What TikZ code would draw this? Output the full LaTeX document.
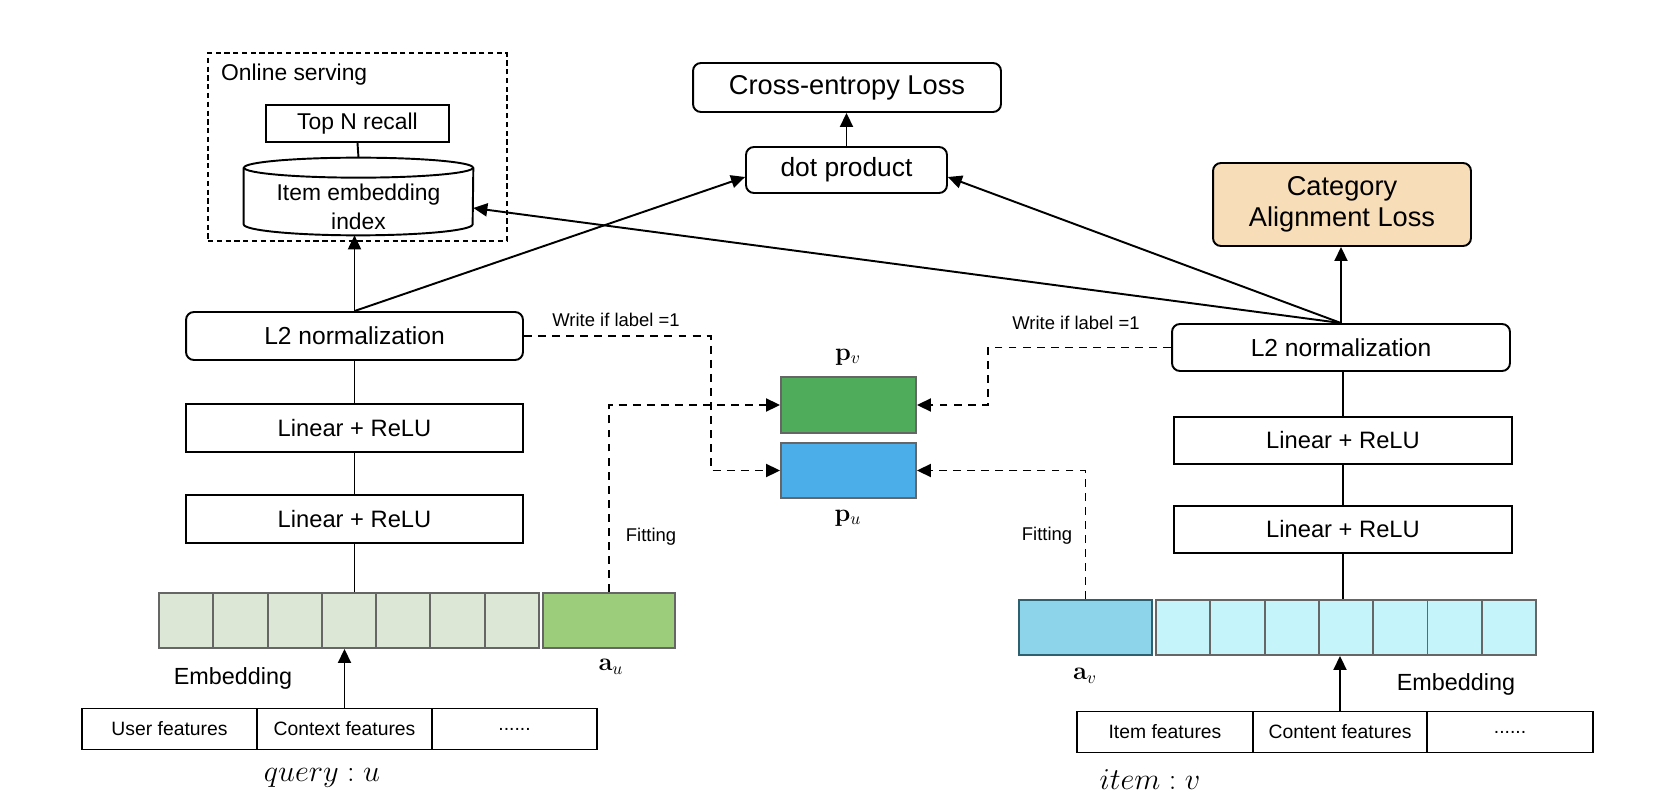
\documentclass[tikz,border=0pt]{standalone}
\usepackage[no-math]{fontspec}
\setmainfont{Liberation Sans}
\usetikzlibrary{arrows.meta,calc}
\newcommand{\fsz}[2]{\fontsize{#1}{#2}\selectfont}

\definecolor{catfill}{HTML}{F8DDB9}
\definecolor{ucell}{HTML}{DCE8D5}
\definecolor{aufill}{HTML}{9BCD7B}
\definecolor{vcell}{HTML}{C5F5FB}
\definecolor{avfill}{HTML}{8DD3EA}
\definecolor{avline}{HTML}{2F6070}
\definecolor{pvfill}{HTML}{4FAC5B}
\definecolor{pufill}{HTML}{4CAEE8}
\definecolor{cellline}{HTML}{666666}

\tikzset{
  rbox/.style={draw, line width=1.1pt, rounded corners=4.5pt, inner sep=0pt},
  sbox/.style={draw, line width=1.1pt, inner sep=0pt},
  cellbox/.style={draw=cellline, line width=1.1pt, inner sep=0pt, minimum width=1.086cm, minimum height=1.1cm},
  feat/.style={sbox, minimum height=0.82cm, font=\fsz{11}{13}},
  arr/.style={line width=1.1pt, -{Triangle[length=2.8mm,width=2.6mm]}},
  darr/.style={arr, dash pattern=on 4.5pt off 3.5pt},
  conn/.style={line width=1.1pt},
  note/.style={font=\fsz{10.5}{12}},
}

\begin{document}
\begin{tikzpicture}[x=0.02cm, y=-0.02cm]
  %%%%% START %%%%%
  \useasboundingbox (0,0) rectangle (1654,794);

  % online serving
  \node[draw, line width=0.9pt, dash pattern=on 3pt off 2pt, inner sep=0pt,
        minimum width=5.98cm, minimum height=3.76cm] (online) at (357.5,147) {};
  \node[anchor=west, font=\fsz{13}{15}] (onlinetxt) at (215,75) {Online serving};
  \node[sbox, minimum width=3.66cm, minimum height=0.74cm, font=\fsz{13}{15}] (topn) at (357.5,123.5) {Top N recall};

  \node[inner sep=0pt, minimum width=4.58cm, minimum height=1.12cm] (idx) at (358.5,196) {};
  \draw[line width=1.1pt, fill=white] (idx.north west) -- (idx.south west)
    arc[start angle=180, end angle=360, x radius=2.29cm, y radius=0.22cm] -- (idx.north east);
  \draw[line width=1.1pt] (idx.north) ellipse [x radius=2.29cm, y radius=0.2cm];
  \node[align=center, font=\fsz{13}{16.4}] (idxtxt) at ($(idx.center)+(0,11)$) {Item embedding\\index};
  \coordinate (idxb) at ($(idx.south)+(0,11)$);

  % losses
  \node[rbox, minimum width=6.16cm, minimum height=0.98cm, font=\fsz{15.5}{18}] (ce) at (847,87.5) {Cross-entropy Loss};
  \node[rbox, minimum width=4.02cm, minimum height=0.92cm, font=\fsz{15}{18}] (dot) at (846.5,170) {dot product};
  \node[rbox, fill=catfill, align=center, minimum width=5.16cm, minimum height=1.66cm, font=\fsz{15.5}{18}] (cat) at (1342,204.5) {Category\\Alignment Loss};

  % query tower
  \node[rbox, minimum width=6.74cm, minimum height=0.96cm, font=\fsz{14}{16}] (l2u) at (354.5,336) {L2 normalization};
  \node[sbox, minimum width=6.74cm, minimum height=0.96cm, font=\fsz{13.5}{16}] (lin1u) at (354.5,428) {Linear + ReLU};
  \node[sbox, minimum width=6.74cm, minimum height=0.96cm, font=\fsz{13.5}{16}] (lin2u) at (354.5,519) {Linear + ReLU};
  \foreach \i in {1,...,7}
    \node[cellbox, fill=ucell] (eu\i) at ({159+54.29*(\i-0.5)},620.5) {};
  \node[cellbox, fill=aufill, minimum width=2.64cm] (au) at (609,620.5) {};
  \node[font=\fsz{14}{16}] (aulbl) at (611,667) {$\mathbf{a}_u$};
  \node[font=\fsz{13.3}{16}] (embu) at (233,678) {Embedding};
  \node[feat, minimum width=3.5cm] (usr) at (169.5,729) {User features};
  \node[feat, minimum width=3.5cm] (ctx) at (344.5,729) {Context features};
  \node[feat, minimum width=3.3cm] (dotsu) at (514.5,729) {......};
  \node[font=\fsz{16}{18}] (qlbl) at (322,778) {$query : u$};

  % item tower
  \node[rbox, minimum width=6.76cm, minimum height=0.94cm, font=\fsz{14}{16}] (l2v) at (1341,347.5) {L2 normalization};
  \node[sbox, minimum width=6.76cm, minimum height=0.94cm, font=\fsz{13.5}{16}] (lin1v) at (1343,440.5) {Linear + ReLU};
  \node[sbox, minimum width=6.76cm, minimum height=0.94cm, font=\fsz{13.5}{16}] (lin2v) at (1343,529.5) {Linear + ReLU};
  \node[cellbox, fill=avfill, draw=avline, minimum width=2.66cm] (av) at (1085.5,627.5) {};
  \foreach \i in {1,...,7}
    \node[cellbox, fill=vcell] (ev\i) at ({1156+54.3*(\i-0.5)},627.5) {};
  \node[font=\fsz{14}{16}] (avlbl) at (1085,676) {$\mathbf{a}_v$};
  \node[font=\fsz{13.3}{16}] (embv) at (1456,684) {Embedding};
  \node[feat, minimum width=3.52cm] (itm) at (1165,732) {Item features};
  \node[feat, minimum width=3.48cm] (cnt) at (1340,732) {Content features};
  \node[feat, minimum width=3.32cm] (dotsv) at (1510,732) {......};
  \node[font=\fsz{16}{18}] (vlbl) at (1150,780) {$item : v$};

  % centre vectors
  \node[sbox, draw=cellline, fill=pvfill, minimum width=2.7cm, minimum height=1.12cm] (pv) at (848.5,405) {};
  \node[sbox, draw=cellline, fill=pufill, minimum width=2.7cm, minimum height=1.1cm] (pu) at (848.5,470.5) {};
  \node[font=\fsz{14}{16}] (pvlbl) at (848,357) {$\mathbf{p}_v$};
  \node[font=\fsz{14}{16}] (pulbl) at (848,518) {$\mathbf{p}_u$};

  % solid connectors
  \draw[conn] (topn.south) -- ($(idx.north)+(0,-10)$);
  \draw[arr] (l2u.north) -- (l2u.north |- idxb);
  \draw[arr] (l2u.north) -- ($(dot.west)+(0,7)$);
  \draw[arr] (l2v.north) -- ($(dot.east)+(0,7)$);
  \draw[arr] (l2v.north) -- ($(idx.east)+(0,12)$);
  \draw[arr] (l2v.north) -- (l2v.north |- cat.south);
  \draw[arr] (dot.north) -- (dot.north |- ce.south);
  \draw[conn] (l2u) -- (lin1u) (lin1u) -- (lin2u);
  \draw[conn] (lin2u.south) -- (lin2u.south |- eu1.north);
  \draw[arr] (ctx.north) -- (ctx.north |- eu1.south);
  \draw[conn] (l2v.south -| lin1v) -- (lin1v) (lin1v) -- (lin2v);
  \draw[conn] (lin2v.south) -- (lin2v.south |- ev1.north);
  \draw[arr] (cnt.north) -- (cnt.north |- ev1.south);

  % dashed connectors
  \draw[darr] (l2u.east) -- ++(187,0) |- (pu.west);
  \draw[darr] (au.north) |- (pv.west);
  \draw[darr] (l2v.west) -- ++(-183,0) |- (pv.east);
  \draw[darr] (av.north) |- (pu.east);
  \node[note] (wlu) at (616,320) {Write if label =1};
  \node[note] (wlv) at (1076,323) {Write if label =1};
  \node[note] (fitu) at (651,537) {Fitting};
  \node[note] (fitv) at (1047,536) {Fitting};
  %%%%% END %%%%%
\end{tikzpicture}
\end{document}
